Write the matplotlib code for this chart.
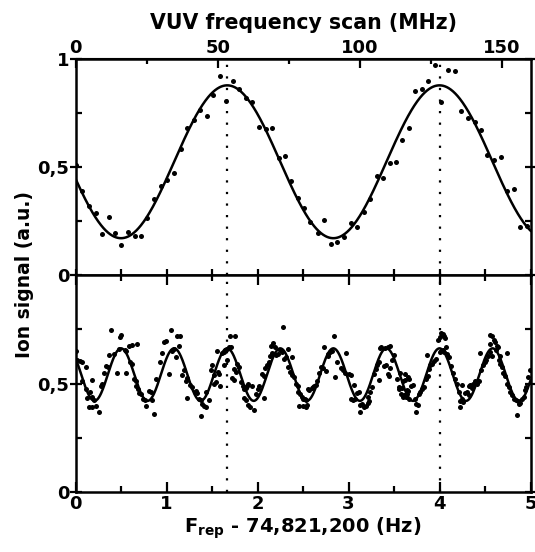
import numpy as np
import matplotlib
matplotlib.use("Agg")
import matplotlib.pyplot as plt
from matplotlib.ticker import FixedLocator, FuncFormatter

plt.rcParams['font.family'] = ['DejaVu Sans']
plt.rcParams['font.weight'] = 'bold'
plt.rcParams['mathtext.fontset'] = 'dejavusans'
plt.rcParams['mathtext.default'] = 'bf'

# ---------------- data ----------------
top_x = [0.000, 0.074, 0.146, 0.220, 0.293, 0.366, 0.432, 0.505, 0.579, 0.652,
         0.718, 0.791, 0.865, 0.937, 1.008, 1.077, 1.154, 1.227, 1.300, 1.370,
         1.440, 1.513, 1.586, 1.656, 1.729, 1.802, 1.876, 1.942, 2.014, 2.088,
         2.157, 2.234, 2.304, 2.370, 2.447, 2.509, 2.582, 2.663, 2.736, 2.810,
         2.876, 2.948, 3.022, 3.088, 3.168, 3.234, 3.308, 3.377, 3.451, 3.524,
         3.590, 3.663, 3.736, 3.805, 3.879, 3.953, 4.019, 4.096, 4.168, 4.238,
         4.311, 4.385, 4.454, 4.527, 4.601, 4.674, 4.744, 4.816, 4.890, 4.960]
top_y = [0.51, 0.39, 0.32, 0.285, 0.19, 0.267, 0.193, 0.139, 0.199, 0.18,
         0.18, 0.265, 0.35, 0.41, 0.44, 0.47, 0.583, 0.68, 0.716, 0.76,
         0.733, 0.83, 0.92, 0.806, 0.898, 0.86, 0.818, 0.80, 0.684, 0.675,
         0.68, 0.54, 0.548, 0.435, 0.355, 0.309, 0.247, 0.193, 0.255, 0.143,
         0.154, 0.176, 0.239, 0.224, 0.29, 0.35, 0.455, 0.45, 0.517, 0.523,
         0.625, 0.679, 0.852, 0.858, 0.898, 0.968, 0.80, 0.949, 0.944, 0.756,
         0.725, 0.705, 0.671, 0.556, 0.532, 0.546, 0.389, 0.395, 0.22, 0.225]

bot_pts = [
    (0.00, 0.652), (0.02, 0.610), (0.05, 0.605), (0.07, 0.600), (0.11, 0.576),
    (0.07, 0.510), (0.11, 0.474), (0.16, 0.463), (0.18, 0.516), (0.13, 0.434),
    (0.15, 0.392), (0.18, 0.394), (0.22, 0.396), (0.256, 0.368), (0.20, 0.425),
    (0.18, 0.44), (0.275, 0.49), (0.29, 0.50), (0.311, 0.547), (0.34, 0.58),
    (0.36, 0.575), (0.366, 0.632), (0.385, 0.745), (0.42, 0.638), (0.458, 0.547),
    (0.48, 0.66), (0.49, 0.715), (0.50, 0.725), (0.54, 0.655), (0.56, 0.650),
    (0.55, 0.547), (0.586, 0.674), (0.62, 0.676), (0.68, 0.680), (0.60, 0.60),
    (0.62, 0.59), (0.64, 0.52), (0.66, 0.51), (0.67, 0.49), (0.69, 0.475),
    (0.70, 0.455), (0.72, 0.45), (0.74, 0.43), (0.76, 0.425), (0.77, 0.395),
    (0.81, 0.466), (0.83, 0.460), (0.843, 0.426), (0.86, 0.36), (0.89, 0.52),
    (0.927, 0.60), (0.953, 0.64), (0.97, 0.69), (0.99, 0.695), (1.026, 0.546),
    (1.044, 0.745), (1.06, 0.65), (1.08, 0.66), (1.10, 0.62), (1.12, 0.72),
    (1.15, 0.72), (1.135, 0.674), (1.17, 0.54), (1.21, 0.51), (1.227, 0.435),
    (1.19, 0.56), (1.22, 0.525), (1.26, 0.495), (1.28, 0.485), (1.31, 0.46),
    (1.32, 0.465), (1.34, 0.455), (1.36, 0.43), (1.38, 0.425), (1.374, 0.35),
    (1.39, 0.405), (1.41, 0.395), (1.43, 0.39), (1.43, 0.463), (1.465, 0.425),
    (1.49, 0.56), (1.50, 0.585), (1.52, 0.54), (1.525, 0.50), (1.54, 0.505),
    (1.55, 0.65), (1.565, 0.555), (1.58, 0.545), (1.59, 0.49), (1.615, 0.64),
    (1.63, 0.645), (1.645, 0.655), (1.66, 0.66), (1.63, 0.584), (1.667, 0.606),
    (1.69, 0.67), (1.71, 0.668), (1.703, 0.72), (1.758, 0.72), (1.72, 0.525),
    (1.74, 0.515), (1.745, 0.565), (1.76, 0.555), (1.78, 0.59), (1.80, 0.575),
    (1.82, 0.505), (1.84, 0.49), (1.85, 0.475), (1.87, 0.48), (1.89, 0.49),
    (1.90, 0.50), (1.94, 0.49), (1.85, 0.435), (1.87, 0.425), (1.90, 0.40),
    (1.92, 0.39), (1.96, 0.38), (1.98, 0.45), (2.00, 0.475), (2.02, 0.49),
    (2.05, 0.545), (2.07, 0.535), (2.07, 0.435), (2.08, 0.57), (2.10, 0.585),
    (2.125, 0.60), (2.14, 0.625), (2.16, 0.64), (2.15, 0.675), (2.17, 0.685),
    (2.19, 0.67), (2.20, 0.63), (2.22, 0.635), (2.25, 0.655), (2.27, 0.645),
    (2.28, 0.76), (2.29, 0.615), (2.31, 0.62), (2.33, 0.66), (2.34, 0.575),
    (2.36, 0.555), (2.38, 0.54), (2.40, 0.53), (2.42, 0.50), (2.44, 0.49),
    (2.45, 0.46), (2.454, 0.395), (2.38, 0.62), (2.47, 0.45), (2.49, 0.44),
    (2.50, 0.43), (2.55, 0.475), (2.57, 0.47), (2.50, 0.395), (2.53, 0.39),
    (2.54, 0.40), (2.52, 0.43), (2.53, 0.425), (2.60, 0.48), (2.61, 0.485),
    (2.625, 0.49), (2.64, 0.495), (2.656, 0.51), (2.674, 0.55), (2.70, 0.575),
    (2.72, 0.57), (2.73, 0.666), (2.75, 0.556), (2.77, 0.625), (2.78, 0.635),
    (2.80, 0.645), (2.82, 0.65), (2.84, 0.717), (2.857, 0.53), (2.875, 0.60),
    (2.92, 0.57), (2.94, 0.56), (2.96, 0.547), (2.97, 0.64), (3.00, 0.545),
    (3.03, 0.54), (3.06, 0.493), (3.03, 0.43), (3.05, 0.425), (3.07, 0.43),
    (3.09, 0.455), (3.11, 0.46), (3.13, 0.40), (3.15, 0.405), (3.13, 0.37),
    (3.17, 0.392), (3.19, 0.395), (3.21, 0.41), (3.22, 0.42), (3.21, 0.44),
    (3.24, 0.463), (3.26, 0.486), (3.28, 0.545), (3.30, 0.565), (3.31, 0.585),
    (3.33, 0.60), (3.33, 0.516), (3.35, 0.665), (3.36, 0.67), (3.40, 0.665),
    (3.43, 0.67), (3.46, 0.675), (3.39, 0.58), (3.41, 0.585), (3.43, 0.545),
    (3.45, 0.535), (3.46, 0.57), (3.48, 0.61), (3.50, 0.63), (3.53, 0.52),
    (3.55, 0.485), (3.56, 0.475), (3.57, 0.55), (3.59, 0.48), (3.60, 0.51),
    (3.62, 0.515), (3.58, 0.45), (3.60, 0.44), (3.61, 0.445), (3.63, 0.44),
    (3.64, 0.45), (3.626, 0.546), (3.65, 0.53), (3.66, 0.52), (3.64, 0.47),
    (3.65, 0.465), (3.69, 0.49), (3.71, 0.495), (3.67, 0.43), (3.73, 0.427),
    (3.74, 0.405), (3.76, 0.40), (3.74, 0.37), (3.77, 0.45), (3.79, 0.46),
    (3.81, 0.475), (3.83, 0.485), (3.85, 0.52), (3.87, 0.535), (3.865, 0.63),
    (3.88, 0.565), (3.90, 0.585), (3.92, 0.59), (3.94, 0.605), (3.96, 0.615),
    (3.98, 0.70), (4.00, 0.715), (4.02, 0.735), (4.035, 0.73), (4.05, 0.72),
    (4.06, 0.71), (4.00, 0.645), (4.02, 0.65), (4.035, 0.655), (4.05, 0.645),
    (4.07, 0.67), (4.08, 0.635), (4.10, 0.62), (4.13, 0.58), (4.15, 0.55),
    (4.17, 0.52), (4.19, 0.50), (4.21, 0.463), (4.23, 0.42), (4.245, 0.43),
    (4.26, 0.415), (4.23, 0.39), (4.25, 0.493), (4.28, 0.455), (4.30, 0.46),
    (4.32, 0.445), (4.32, 0.49), (4.34, 0.495), (4.36, 0.48), (4.37, 0.50),
    (4.39, 0.51), (4.41, 0.50), (4.43, 0.51), (4.45, 0.64), (4.46, 0.56),
    (4.48, 0.585), (4.50, 0.60), (4.51, 0.61), (4.53, 0.625), (4.55, 0.725),
    (4.58, 0.72), (4.60, 0.70), (4.61, 0.69), (4.63, 0.675), (4.55, 0.68),
    (4.56, 0.645), (4.58, 0.625), (4.62, 0.655), (4.64, 0.67), (4.65, 0.61),
    (4.67, 0.625), (4.67, 0.59), (4.69, 0.575), (4.70, 0.55), (4.72, 0.535),
    (4.74, 0.64), (4.74, 0.50), (4.76, 0.485), (4.78, 0.46), (4.80, 0.445),
    (4.82, 0.43), (4.84, 0.425), (4.86, 0.42), (4.87, 0.405), (4.89, 0.41),
    (4.85, 0.353), (4.91, 0.43), (4.93, 0.44), (4.94, 0.47), (4.95, 0.485),
    (4.97, 0.53), (4.99, 0.56),
]
bot_x = [p[0] for p in bot_pts]
bot_y = [p[1] for p in bot_pts]

# fitted sinusoid parameters
top_fit = dict(center=1.667, period=2.333, ymin=0.170, ymax=0.876)
bot_fit = dict(center=1.667, period=2.333 / 4, ymin=0.420, ymax=0.662)

marker_lines = [1.667, 4.0]
mhz_per_hz = 32.0

xmin, xmax = 0.0, 5.0


def fit_curve(p, x):
    mean = 0.5 * (p['ymax'] + p['ymin'])
    amp = 0.5 * (p['ymax'] - p['ymin'])
    return mean + amp * np.cos(2 * np.pi * (x - p['center']) / p['period'])


comma = FuncFormatter(lambda v, pos: ('%g' % v).replace('.', ','))

W, H = 535, 552
fig = plt.figure(figsize=(W / 100, H / 100), dpi=100)
L = 75.5 / W
Wd = 455 / W
ax1 = fig.add_axes([L, 1 - 275 / H, Wd, 216.5 / H])
ax2 = fig.add_axes([L, 1 - 492 / H, Wd, 217 / H])

xs = np.linspace(xmin, xmax, 800)
FS = 13

for ax, dx, dy, p in ((ax1, top_x, top_y, top_fit), (ax2, bot_x, bot_y, bot_fit)):
    ax.scatter(dx, dy, s=13, color='black', linewidths=0, zorder=3, clip_on=True)
    ax.plot(xs, fit_curve(p, xs), color='black', lw=1.8, zorder=4)
    for xv in marker_lines:
        ax.axvline(xv, color='black', lw=1.6, linestyle=(0, (1, 4.2)), zorder=2)
    ax.set_xlim(xmin, xmax)
    ax.set_ylim(0, 1)
    for s in ax.spines.values():
        s.set_linewidth(1.8)
    ax.xaxis.set_major_locator(FixedLocator([0, 1, 2, 3, 4, 5]))
    ax.xaxis.set_minor_locator(FixedLocator([0.5, 1.5, 2.5, 3.5, 4.5]))
    ax.yaxis.set_minor_locator(FixedLocator([0.25, 0.75]))
    ax.yaxis.set_major_formatter(comma)
    ax.tick_params(axis='both', which='major', direction='in', length=7, width=1.6,
                   labelsize=FS, top=True, right=True)
    ax.tick_params(axis='both', which='minor', direction='in', length=4.5, width=1.6,
                   top=True, right=True)
    ax.tick_params(axis='y', which='major', direction='inout', length=9, pad=0)

ax1.set_yticks([0, 0.5, 1])
ax1.tick_params(axis='x', which='both', labelbottom=False, top=False, length=4)
ax2.set_yticks([0, 0.5])
ax2.tick_params(axis='x', which='major', pad=2)

for lab in ax1.get_yticklabels() + ax2.get_yticklabels() + ax2.get_xticklabels():
    lab.set_fontweight('bold')

sec = ax1.secondary_xaxis('top', functions=(lambda x: x * mhz_per_hz, lambda m: m / mhz_per_hz))
sec.set_xticks([0, 50, 100, 150])
sec.xaxis.set_minor_locator(FixedLocator([25, 75, 125]))
sec.tick_params(axis='x', which='major', direction='in', length=7, width=1.6, labelsize=FS, pad=1)
sec.tick_params(axis='x', which='minor', direction='in', length=4.5, width=1.6)
for lab in sec.get_xticklabels():
    lab.set_fontweight('bold')
sec.set_xlabel('VUV frequency scan (MHz)', fontsize=14.8, fontweight='bold', labelpad=7)

ax2.set_xlabel(r'F$_{\mathbf{rep}}$ - 74,821,200 (Hz)', fontsize=14, fontweight='bold', labelpad=2)
fig.text(25 / W, 1 - 275 / H, 'Ion signal (a.u.)', rotation=90, fontsize=13.5,
         fontweight='bold', ha='center', va='center')

fig.savefig('out.png', dpi=100)
